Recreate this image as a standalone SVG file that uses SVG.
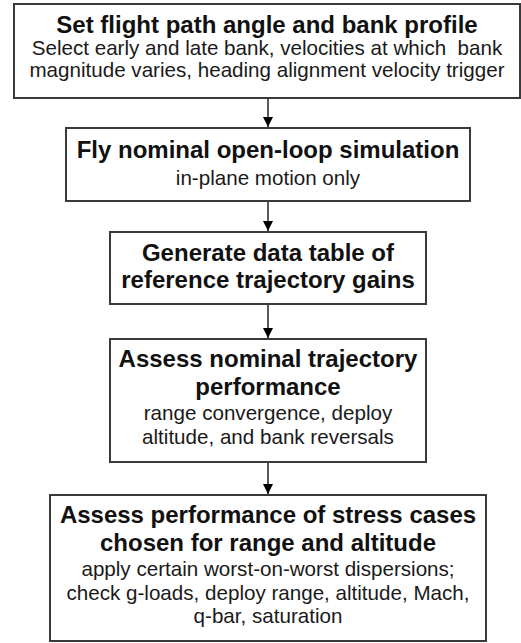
<svg xmlns="http://www.w3.org/2000/svg" width="521" height="643" viewBox="0 0 521 643">
<defs>
<style>
.box{fill:#ffffff;stroke:#3a3a3a;stroke-width:2}
.t{font-family:"Liberation Sans",Arial,sans-serif;font-weight:bold;font-size:24px;fill:#111;text-anchor:middle}
.s{font-family:"Liberation Sans",Arial,sans-serif;font-size:20.6px;fill:#1a1a1a;text-anchor:middle}
.c{stroke:#000;stroke-width:1.3;fill:none}
</style>
<marker id="ah" viewBox="0 0 10 10" refX="10" refY="5" markerWidth="10" markerHeight="10" markerUnits="userSpaceOnUse" orient="auto">
<path d="M0,0 L10,5 L0,10 z" fill="#000"/>
</marker>
</defs>
<rect width="521" height="643" fill="#fff"/>
<g id="connectors">
<line class="c" x1="268" y1="99" x2="268" y2="127" marker-end="url(#ah)"/>
<line class="c" x1="268" y1="202" x2="268" y2="231" marker-end="url(#ah)"/>
<line class="c" x1="268" y1="305" x2="268" y2="338" marker-end="url(#ah)"/>
<line class="c" x1="268" y1="462" x2="268" y2="494" marker-end="url(#ah)"/>
</g>
<g id="node1">
<rect class="box" x="14" y="4" width="506" height="94"/>
<text class="t" x="267" y="33">Set flight path angle and bank profile</text>
<text class="s" x="267" y="55" xml:space="preserve">Select early and late bank, velocities at which  bank</text>
<text class="s" x="267" y="77">magnitude varies, heading alignment velocity trigger</text>
</g>
<g id="node2">
<rect class="box" x="66" y="128" width="404" height="73"/>
<text class="t" x="268" y="158">Fly nominal open-loop simulation</text>
<text class="s" x="268" y="185">in-plane motion only</text>
</g>
<g id="node3">
<rect class="box" x="110" y="232" width="316" height="72"/>
<text class="t" x="268" y="261">Generate data table of</text>
<text class="t" x="268" y="288">reference trajectory gains</text>
</g>
<g id="node4">
<rect class="box" x="110" y="339" width="316" height="123"/>
<text class="t" x="268" y="367">Assess nominal trajectory</text>
<text class="t" x="268" y="395">performance</text>
<text class="s" x="268" y="420">range convergence, deploy</text>
<text class="s" x="268" y="444">altitude, and bank reversals</text>
</g>
<g id="node5">
<rect class="box" x="50" y="495" width="436" height="146"/>
<text class="t" x="268" y="523">Assess performance of stress cases</text>
<text class="t" x="268" y="551">chosen for range and altitude</text>
<text class="s" x="268" y="576">apply certain worst-on-worst dispersions;</text>
<text class="s" x="268" y="600">check g-loads, deploy range, altitude, Mach,</text>
<text class="s" x="268" y="623">q-bar, saturation</text>
</g>
</svg>
